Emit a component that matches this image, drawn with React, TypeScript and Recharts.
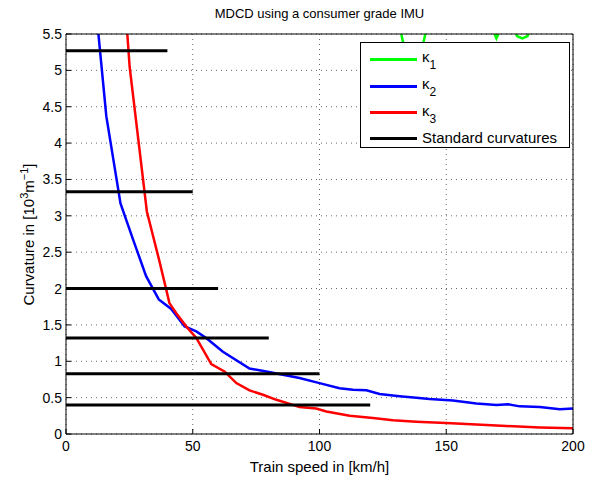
import React from 'react';
import { LineChart, Line, XAxis, YAxis, CartesianGrid } from 'recharts';

// kappa_1 (consumer grade IMU) - mostly above the plotted range
const speedK1 = [120, 128, 133, 137, 141, 146, 155, 163, 167.5, 169.8, 172, 176, 178, 180, 182, 184, 190, 200];
const kappa1 = [7.5, 6.2, 5.38, 5.1, 5.38, 6.2, 6.8, 6.0, 5.62, 5.44, 5.62, 5.62, 5.47, 5.44, 5.47, 5.62, 6.3, 6.8];

// kappa_2
const speedK2 = [11, 15.9, 21.5, 26.4, 31.6, 36.6, 41.5, 46.8, 51.4, 55.3, 61.9, 72.4, 79, 92.1, 100, 107.9, 113.2, 118.5, 123.7, 131.6, 138.2, 143.4, 152.6, 161.9, 169.8, 174.3, 179, 186.9, 194.8, 200];
const kappa2 = [6.15, 4.37, 3.17, 2.68, 2.17, 1.85, 1.72, 1.48, 1.41, 1.32, 1.13, 0.9, 0.86, 0.77, 0.7, 0.63, 0.61, 0.6, 0.55, 0.52, 0.5, 0.48, 0.46, 0.42, 0.4, 0.41, 0.38, 0.37, 0.34, 0.35];

// kappa_3
const speedK3 = [22, 25.1, 31.9, 36.9, 40.8, 43.5, 47.4, 51.4, 57.3, 62.5, 67.2, 72.4, 77.7, 83, 89.5, 92.1, 98.7, 102.7, 111.9, 121.1, 129, 138.2, 150, 161.9, 173.7, 186.9, 200];
const kappa3 = [6.58, 5.05, 3.06, 2.37, 1.8, 1.66, 1.48, 1.32, 0.96, 0.86, 0.7, 0.6, 0.54, 0.47, 0.4, 0.37, 0.35, 0.31, 0.25, 0.22, 0.19, 0.17, 0.15, 0.13, 0.11, 0.09, 0.08];

// standard curvatures and their speed limits
const stdCurvature = [5.27, 3.33, 2.0, 1.32, 0.83, 0.4];
const stdSpeed = [40, 50, 60, 80, 100, 120];

const xTicks = [0, 50, 100, 150, 200];
const yTicks = [0, 0.5, 1, 1.5, 2, 2.5, 3, 3.5, 4, 4.5, 5, 5.5];

const toRows = (xs: number[], ys: number[]) => xs.map((x, i) => ({ x, y: ys[i] }));

const FONT = '"Liberation Sans", Arial, sans-serif';
const tickStyle = { fill: '#000', fontSize: 14, fontFamily: FONT };
const supStyle: React.CSSProperties = { fontSize: 11, position: 'relative', top: -6 };

const legendItems = [
  { color: '#00ff00', label: '1' },
  { color: '#0000ff', label: '2' },
  { color: '#ff0000', label: '3' },
];

const App: React.FC = () => {
  return (
    <div
      style={{
        position: 'absolute',
        left: 0,
        top: 0,
        width: 604,
        height: 478,
        background: '#fff',
        fontFamily: FONT,
        color: '#000',
      }}
    >
      <LineChart width={604} height={478} margin={{ top: 30, right: 27, bottom: 14, left: 8 }}>
        <CartesianGrid xAxisId="b" yAxisId="l" stroke="#666" strokeDasharray="1 4" />
        <XAxis
          xAxisId="b"
          dataKey="x"
          type="number"
          domain={[0, 200]}
          ticks={xTicks}
          allowDataOverflow
          height={30}
          tickSize={-5}
          tickMargin={12}
          tick={tickStyle}
          stroke="#000"
        />
        <XAxis
          xAxisId="t"
          orientation="top"
          dataKey="x"
          type="number"
          domain={[0, 200]}
          ticks={xTicks}
          allowDataOverflow
          height={4}
          tickSize={-5}
          tick={false}
          stroke="#000"
        />
        <YAxis
          yAxisId="l"
          type="number"
          domain={[0, 5.5]}
          ticks={yTicks}
          allowDataOverflow
          width={58}
          tickSize={-5}
          tickMargin={9}
          tick={tickStyle}
          stroke="#000"
        />
        <YAxis
          yAxisId="r"
          orientation="right"
          type="number"
          domain={[0, 5.5]}
          ticks={yTicks}
          allowDataOverflow
          width={4}
          tickSize={-5}
          tick={false}
          stroke="#000"
        />
        <Line xAxisId="b" yAxisId="l" data={toRows(speedK1, kappa1)} dataKey="y" stroke="#00ff00" strokeWidth={2.5} dot={false} isAnimationActive={false} />
        <Line xAxisId="b" yAxisId="l" data={toRows(speedK2, kappa2)} dataKey="y" stroke="#0000ff" strokeWidth={2.5} dot={false} isAnimationActive={false} />
        <Line xAxisId="b" yAxisId="l" data={toRows(speedK3, kappa3)} dataKey="y" stroke="#ff0000" strokeWidth={2.5} dot={false} isAnimationActive={false} />
        {stdCurvature.map((c, i) => (
          <Line
            key={i}
            xAxisId="b"
            yAxisId="l"
            data={[{ x: 0, y: c }, { x: stdSpeed[i], y: c }]}
            dataKey="y"
            stroke="#000"
            strokeWidth={3}
            dot={false}
            isAnimationActive={false}
          />
        ))}
      </LineChart>

      {/* title */}
      <div style={{ position: 'absolute', left: 66, width: 507, top: 6, textAlign: 'center', fontSize: 13, lineHeight: '15px' }}>
        MDCD using a consumer grade IMU
      </div>

      {/* x label */}
      <div style={{ position: 'absolute', left: 66, width: 507, top: 458, textAlign: 'center', fontSize: 15, lineHeight: '17px' }}>
        Train speed in [km/h]
      </div>

      {/* y label */}
      <div
        style={{
          position: 'absolute',
          left: 27.5 - 200,
          top: 234 - 8.5,
          width: 400,
          height: 17,
          textAlign: 'center',
          fontSize: 15,
          lineHeight: '17px',
          transform: 'rotate(-90deg)',
          whiteSpace: 'nowrap',
        }}
      >
        Curvature in [10<span style={supStyle}>3</span>m<span style={supStyle}>−1</span>]
      </div>

      {/* legend */}
      <div
        style={{
          position: 'absolute',
          left: 360,
          top: 42,
          width: 210,
          height: 106,
          boxSizing: 'border-box',
          border: '1px solid #000',
          background: '#fff',
          fontSize: 15,
          lineHeight: '17px',
        }}
      >
        {legendItems.map((it, i) => {
          const rowY = 16.3 + i * 26.7;
          return (
            <React.Fragment key={i}>
              <div style={{ position: 'absolute', left: 9, top: rowY - 1.5, width: 47, height: 3, background: it.color }} />
              <div style={{ position: 'absolute', left: 61, top: rowY - 11, whiteSpace: 'nowrap' }}>
                κ<span style={{ fontSize: 12, position: 'relative', top: 7 }}>{it.label}</span>
              </div>
            </React.Fragment>
          );
        })}
        <div style={{ position: 'absolute', left: 9, top: 95 - 1.5, width: 47, height: 3, background: '#000' }} />
        <div style={{ position: 'absolute', left: 61, top: 86, whiteSpace: 'nowrap' }}>Standard curvatures</div>
      </div>
    </div>
  );
};

export default App;
